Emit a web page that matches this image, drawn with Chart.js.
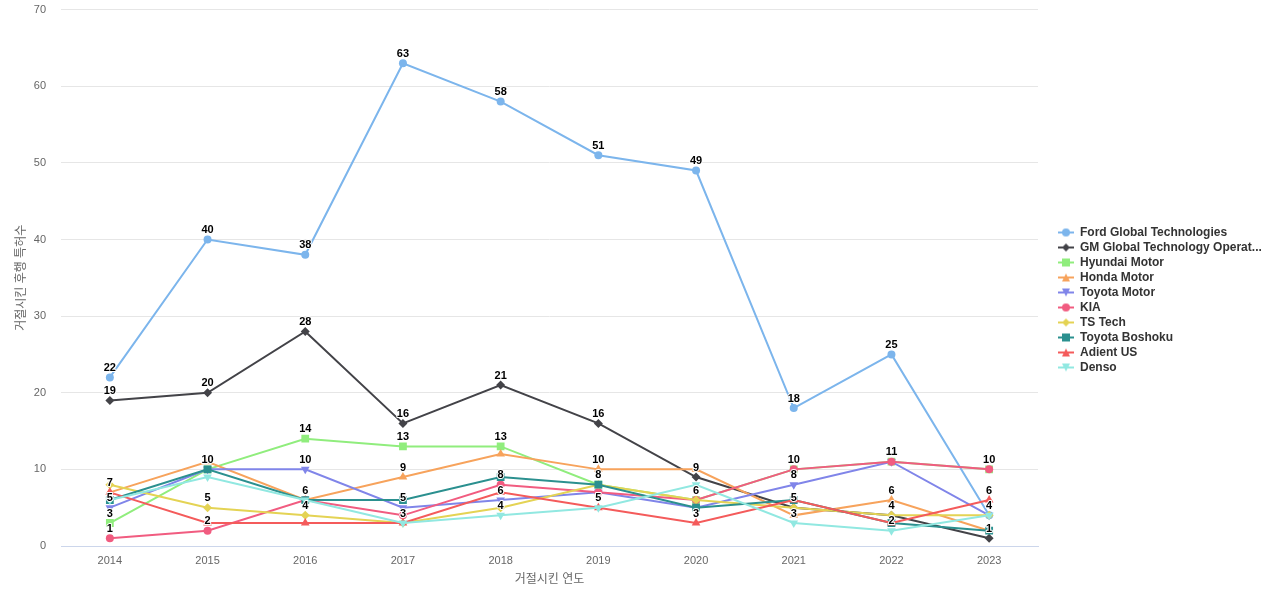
<!doctype html>
<html lang="ko">
<head>
<meta charset="utf-8">
<title>거절시킨 연도별 후행 특허수</title>
<style>
  html, body { margin: 0; padding: 0; background: #ffffff; }
  #wrap { width: 1280px; height: 600px; }
</style>
</head>
<body>
<div id="wrap"><canvas id="chart" width="1280" height="600"></canvas></div>
<script src="https://cdn.jsdelivr.net/npm/chart.js@4"></script>
<script>
const years = ['2014', '2015', '2016', '2017', '2018', '2019', '2020', '2021', '2022', '2023'];
const ford          = [22, 40, 38, 63, 58, 51, 49, 18, 25, 4];
const gm            = [19, 20, 28, 16, 21, 16, 9, 5, 4, 1];
const hyundai       = [3, 10, 14, 13, 13, 8, 6, 10, 11, 10];
const honda         = [7, 11, 6, 9, 12, 10, 10, 4, 6, 2];
const toyotaMotor   = [5, 10, 10, 5, 6, 7, 5, 8, 11, 4];
const kia           = [1, 2, 6, 4, 8, 7, 6, 10, 11, 10];
const tsTech        = [8, 5, 4, 3, 5, 8, 6, 5, 4, 4];
const toyotaBoshoku = [6, 10, 6, 6, 9, 8, 5, 6, 3, 2];
const adient        = [7, 3, 3, 3, 7, 5, 3, 6, 3, 6];
const denso         = [6, 9, 6, 3, 4, 5, 8, 3, 2, 4];
const yTicks = [0, 10, 20, 30, 40, 50, 60, 70];

const names = ['Ford Global Technologies', 'GM Global Technology Operations', 'Hyundai Motor', 'Honda Motor',
  'Toyota Motor', 'KIA', 'TS Tech', 'Toyota Boshoku', 'Adient US', 'Denso'];
const values = [ford, gm, hyundai, honda, toyotaMotor, kia, tsTech, toyotaBoshoku, adient, denso];
const colors = ['#7cb5ec', '#434348', '#90ed7d', '#f7a35c', '#8085e9', '#f15c80', '#e4d354', '#2b908f', '#f45b5b', '#91e8e1'];
const markers = ['circle', 'diamond', 'square', 'triangle', 'triangle-down'];

const FONT = '"Liberation Sans", Arial, "Noto Sans CJK KR", sans-serif';
Chart.defaults.font.family = FONT;

// chart.js style + size for each highcharts-like marker
function markerStyle(m) {
  if (m == 'circle') return {style: 'circle', radius: 4, rot: 0};
  if (m == 'diamond') return {style: 'rectRot', radius: 4.5, rot: 0};
  if (m == 'square') return {style: 'rect', radius: 5.5, rot: 0};
  if (m == 'triangle') return {style: 'triangle', radius: 5, rot: 0};
  return {style: 'triangle', radius: 5, rot: 180};
}

// little line + marker picture for the legend
function legendSymbol(color, m) {
  const c = document.createElement('canvas');
  c.width = 16; c.height = 12;
  const g = c.getContext('2d');
  g.strokeStyle = color; g.fillStyle = color; g.lineWidth = 2;
  g.beginPath(); g.moveTo(0, 6); g.lineTo(16, 6); g.stroke();
  g.beginPath();
  if (m == 'circle') g.arc(8, 6, 4, 0, Math.PI * 2);
  else if (m == 'diamond') { g.moveTo(8, 2); g.lineTo(12, 6); g.lineTo(8, 10); g.lineTo(4, 6); }
  else if (m == 'square') g.rect(4, 2, 8, 8);
  else if (m == 'triangle') { g.moveTo(8, 2); g.lineTo(12, 10); g.lineTo(4, 10); }
  else { g.moveTo(4, 2); g.lineTo(12, 2); g.lineTo(8, 10); }
  g.closePath(); g.fill();
  return c;
}

const datasets = names.map((n, i) => {
  const m = markers[i % markers.length];
  const ms = markerStyle(m);
  return {
    label: n,
    data: values[i],
    borderColor: colors[i],
    backgroundColor: colors[i],
    borderWidth: 2,
    pointStyle: ms.style,
    pointRadius: ms.radius,
    pointRotation: ms.rot,
    pointBorderWidth: 0,
    pointBackgroundColor: colors[i],
    tension: 0,
    order: names.length - i,
    legendSymbol: legendSymbol(colors[i], m)
  };
});

// value labels above points, skipping ones that would collide (first series wins)
const pointLabels = {
  id: 'pointLabels',
  afterDatasetsDraw(chart) {
    const ctx = chart.ctx;
    ctx.save();
    ctx.font = 'bold 11px ' + FONT;
    ctx.textAlign = 'center';
    ctx.textBaseline = 'middle';
    ctx.lineJoin = 'round';
    const boxes = [];
    for (let i = 0; i < years.length; i++) {
      chart.data.datasets.forEach((ds, d) => {
        const el = chart.getDatasetMeta(d).data[i];
        const text = String(ds.data[i]);
        const w = ctx.measureText(text).width;
        const x = el.x, y = el.y - 9.5;
        const box = {l: x - w / 2 - 1, r: x + w / 2 + 1, t: y - 6.5, b: y + 6.5};
        if (boxes.some(b => box.l < b.r && box.r > b.l && box.t < b.b && box.b > b.t)) return;
        boxes.push(box);
        ctx.strokeStyle = '#ffffff';
        ctx.lineWidth = 2;
        ctx.strokeText(text, x, y);
        ctx.fillStyle = '#000000';
        ctx.fillText(text, x, y);
      });
    }
    ctx.restore();
  }
};

new Chart(document.getElementById('chart'), {
  type: 'line',
  data: {labels: years, datasets: datasets},
  options: {
    responsive: false,
    animation: false,
    events: [],
    layout: {padding: {top: 0, right: 14, bottom: 0, left: 0}},
    scales: {
      x: {
        offset: true,
        grid: {display: false, drawTicks: false},
        border: {color: '#ccd6eb', width: 1},
        ticks: {color: '#666666', font: {size: 11}, padding: 8, maxRotation: 0},
        title: {display: true, text: '거절시킨 연도', color: '#666666', font: {size: 12}, padding: {top: 4, bottom: 13}},
        afterFit: (s) => { s.height = 54; }
      },
      y: {
        min: 0,
        max: 70,
        afterBuildTicks: (s) => { s.ticks = yTicks.map(v => ({value: v})); },
        grid: {color: '#e6e6e6', drawTicks: true, tickLength: 12, tickColor: 'rgba(0,0,0,0)'},
        border: {display: false},
        ticks: {color: '#666666', font: {size: 11}, padding: 3},
        title: {display: true, text: '거절시킨 후행 특허수', color: '#666666', font: {size: 12}, padding: {top: 14, bottom: 14}},
        afterFit: (s) => { s.width = 61; }
      },
      gap: {
        position: 'right',
        display: true,
        min: 0,
        max: 1,
        grid: {display: false},
        border: {display: false},
        ticks: {display: false},
        afterFit: (s) => { s.width = 17; }
      }
    },
    plugins: {
      tooltip: {enabled: false},
      legend: {
        position: 'right',
        align: 'center',
        labels: {
          usePointStyle: true,
          pointStyleWidth: 16,
          padding: 3,
          color: '#333333',
          font: {size: 12, weight: 'bold'},
          generateLabels: (chart) => chart.data.datasets.map((ds, i) => ({
            text: ds.label.length > 30 ? ds.label.slice(0, 27) + '...' : ds.label,
            pointStyle: ds.legendSymbol,
            fillStyle: ds.borderColor,
            strokeStyle: ds.borderColor,
            lineWidth: 0,
            fontColor: '#333333',
            datasetIndex: i,
            hidden: false
          }))
        }
      }
    }
  },
  plugins: [pointLabels]
});
</script>
</body>
</html>
